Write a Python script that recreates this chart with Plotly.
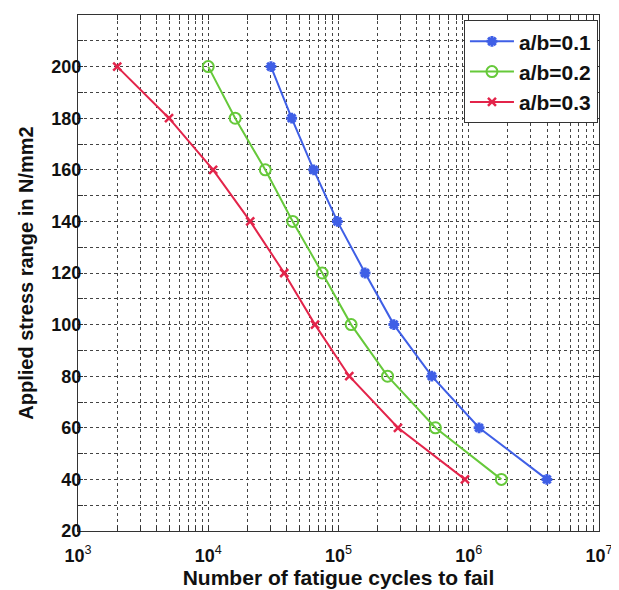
import plotly.graph_objects as go

# Data
stress = [200, 180, 160, 140, 120, 100, 80, 60, 40]
cycles_ab01 = [3.03e4, 4.37e4, 6.45e4, 9.8e4, 1.6e5, 2.66e5, 5.2e5, 1.2e6, 3.98e6]
cycles_ab02 = [1.0e4, 1.61e4, 2.74e4, 4.45e4, 7.5e4, 1.25e5, 2.38e5, 5.55e5, 1.78e6]
cycles_ab03 = [2.0e3, 5.0e3, 1.09e4, 2.1e4, 3.83e4, 6.6e4, 1.21e5, 2.86e5, 9.35e5]
series_names = ["a/b=0.1", "a/b=0.2", "a/b=0.3"]

x_decades = [3, 4, 5, 6, 7]
y_ticks = list(range(20, 221, 10))
y_labels = [str(v) if v % 20 == 0 else "" for v in y_ticks]

FONT = "Liberation Sans, Arial, sans-serif"

# x tick values: decades plus minor 2..9 for grid lines
x_tickvals = []
x_ticktext = []
for d in x_decades:
    x_tickvals.append(10 ** d)
    x_ticktext.append("<b>10</b><sup>%d</sup>" % d)
    if d < 7:
        for m in range(2, 10):
            x_tickvals.append(m * 10 ** d)
            x_ticktext.append("")

fig = go.Figure()
styles = [
    dict(color="#3f5fe6", symbol="asterisk-open", size=9, mlw=3),
    dict(color="#66c93a", symbol="circle-open", size=11, mlw=2),
    dict(color="#e3244a", symbol="x-thin-open", size=8, mlw=2.5),
]
for name, xs, st in zip(series_names, [cycles_ab01, cycles_ab02, cycles_ab03], styles):
    fig.add_trace(go.Scatter(
        x=xs, y=stress, name=name, mode="lines+markers",
        line=dict(color=st["color"], width=2),
        marker=dict(symbol=st["symbol"], size=st["size"], color=st["color"],
                    line=dict(color=st["color"], width=st["mlw"])),
    ))

axis_common = dict(
    showline=True, linecolor="#333333", linewidth=1, mirror="ticks",
    ticks="inside", ticklen=5, tickcolor="#333333",
    showgrid=True, gridcolor="#444444", gridwidth=1, griddash="dot",
    zeroline=False, automargin=False,
)

fig.update_xaxes(
    type="log", range=[3, 7], tickmode="array",
    tickvals=x_tickvals, ticktext=x_ticktext,
    tickfont=dict(family=FONT, size=18, color="#111111"),
    ticklabelstandoff=8,
    title=dict(text="<b>Number of fatigue cycles to fail</b>",
               font=dict(family=FONT, size=21, color="#111111"), standoff=0),
    **axis_common,
)
fig.update_yaxes(
    range=[20, 220], tickmode="array", tickvals=y_ticks, ticktext=y_labels,
    tickfont=dict(family=FONT, size=18, color="#111111", weight="bold"),
    ticklabelstandoff=-8,
    title=dict(text="<b>Applied stress range in N/mm2</b>",
               font=dict(family=FONT, size=20, color="#111111"), standoff=12),
    **axis_common,
)

# page body has an 8px default margin; size the figure so the plot area
# lands at the same place as in the reference window
fig.update_layout(
    width=611, height=582,
    margin=dict(l=70, r=20, t=7, b=59),
    paper_bgcolor="white", plot_bgcolor="white",
    showlegend=True,
    legend=dict(
        x=0.998, y=0.99, xanchor="right", yanchor="top",
        bgcolor="white", bordercolor="#333333", borderwidth=1,
        font=dict(family=FONT, size=21, color="#111111", weight="bold"),
        tracegroupgap=0, itemwidth=44,
    ),
)

fig.write_html("out.html")
